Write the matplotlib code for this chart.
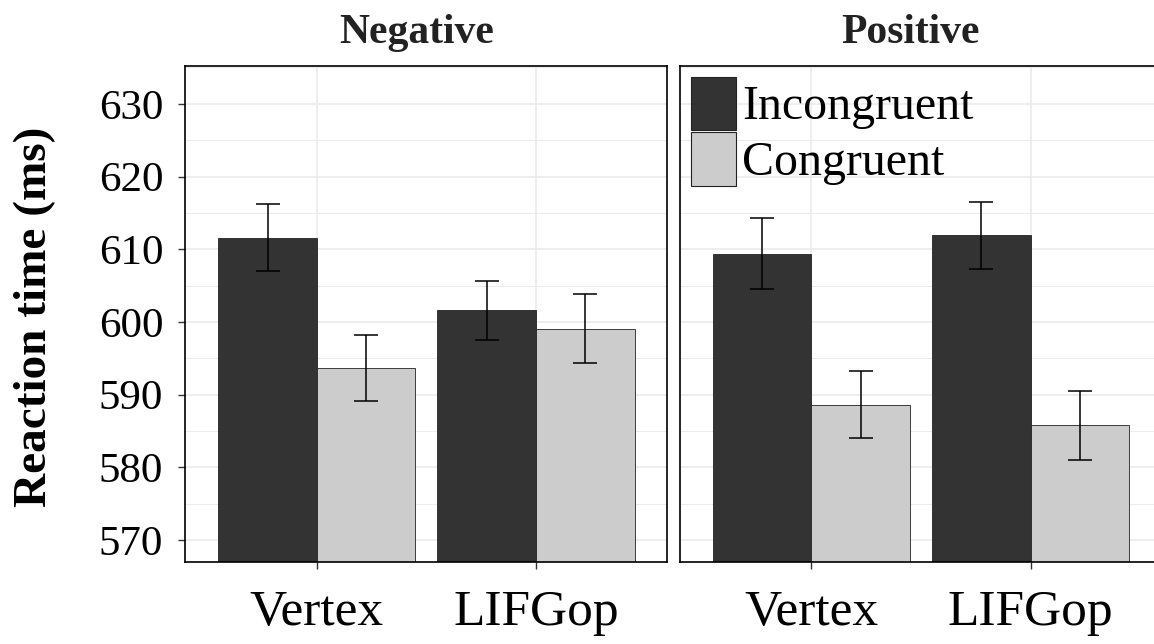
import numpy as np
import matplotlib.pyplot as plt
from matplotlib.patches import Patch
from matplotlib.ticker import MultipleLocator

plt.rcParams['font.family'] = ['Liberation Serif', 'DejaVu Serif']

groups = ['Vertex', 'LIFGop']
panels = ['Negative', 'Positive']
conditions = ['Incongruent', 'Congruent']

# means and standard errors (ms)
neg_inc = [611.6, 601.6]
neg_inc_se = [4.65, 4.1]
neg_con = [593.7, 599.1]
neg_con_se = [4.55, 4.75]
pos_inc = [609.4, 611.9]
pos_inc_se = [4.85, 4.6]
pos_con = [588.6, 585.8]
pos_con_se = [4.6, 4.75]

data = {
    'Negative': [(neg_inc, neg_inc_se), (neg_con, neg_con_se)],
    'Positive': [(pos_inc, pos_inc_se), (pos_con, pos_con_se)],
}
fills = ['#333333', '#cccccc']

fig = plt.figure(figsize=(11.54, 6.44), dpi=100)
W, H = 1154, 644
bot, top = 1 - 562 / H, 1 - 66 / H
pw = 482 / W
ax1 = fig.add_axes([185.4 / W, bot, pw, top - bot])
ax2 = fig.add_axes([680 / W, bot, pw, top - bot])

x = np.arange(len(groups))
bw = 0.45
for ax, name in zip([ax1, ax2], panels):
    for k, (vals, se) in enumerate(data[name]):
        pos = x + (k - 0.5) * bw
        ax.bar(pos, vals, width=bw, bottom=0, color=fills[k], edgecolor='#222222',
               linewidth=0.6, zorder=2, label=conditions[k])
        ax.errorbar(pos, vals, yerr=se, fmt='none', ecolor='black', elinewidth=1.1,
                    capsize=8.3, capthick=1.1, zorder=3)
    ax.set_xlim(-0.6, 1.6)
    ax.set_ylim(567.0, 635.2)
    ax.yaxis.set_major_locator(MultipleLocator(10))
    ax.yaxis.set_minor_locator(MultipleLocator(5))
    ax.grid(True, which='major', color='#ebebeb', linewidth=1.2, zorder=0)
    ax.grid(True, which='minor', axis='y', color='#ebebeb', linewidth=0.7, zorder=0)
    ax.set_axisbelow(True)
    ax.set_xticks(x)
    ax.set_xticklabels(groups, fontsize=37)
    ax.tick_params(axis='x', length=5, width=1, color='#333333', pad=15)
    ax.tick_params(axis='y', which='minor', length=0)
    for s in ax.spines.values():
        s.set_linewidth(1.2)
        s.set_color('black')
    ax.text(0.479, 1.029, name, transform=ax.transAxes, ha='center', va='bottom',
            fontsize=30, fontweight='bold', color='#222222')

ax1.tick_params(axis='y', labelsize=31, length=5, width=1, color='#333333', pad=11)
ax2.tick_params(axis='y', which='both', left=False, labelleft=False)

handles = [Patch(facecolor=fills[k], edgecolor='#222222', linewidth=0.8) for k in range(2)]
ax2.legend(handles, conditions, loc='upper left', fontsize=34.5, frameon=False,
           handlelength=0.94, handleheight=1.35, handletextpad=0.14,
           labelspacing=0.03, borderpad=0.0, borderaxespad=0.22)

fig.text(35 / W, 1 - 316.5 / H, 'Reaction time (ms)', rotation=90, ha='center',
         va='center', fontsize=34, fontweight='bold')

fig.savefig('out.png', dpi=100)
